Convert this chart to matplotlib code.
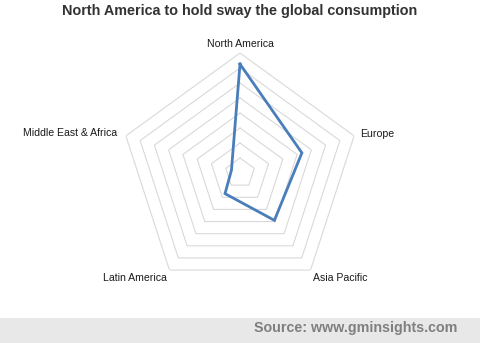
import numpy as np
import matplotlib.pyplot as plt
from matplotlib.patches import Rectangle

# ───── Data ─────
regions = ['North America', 'Europe', 'Asia Pacific', 'Latin America', 'Middle East & Africa']
share   = [36.3, 21.7, 19.5, 8.5, 3.0]
rings   = [5, 10, 15, 20, 25, 30, 35, 40]

TITLE  = 'North America to hold sway the global consumption'
SOURCE = 'Source: www.gminsights.com'

plt.rcParams['font.family'] = ['Liberation Sans', 'DejaVu Sans']

fig = plt.figure(figsize=(4.8, 3.43), dpi=100)
ax = fig.add_axes([0.25, 0.1458, 0.5, 0.6997], projection='polar')
ax.set_theta_offset(np.pi / 2)
ax.set_theta_direction(-1)

angles = np.linspace(0, 2 * np.pi, len(regions), endpoint=False)
closed = np.append(angles, angles[0])

# pentagon grid
for r in rings:
    ax.plot(closed, [r] * len(closed), color='#d9d9d9', lw=0.8, zorder=1)

vals = share + share[:1]
ax.plot(closed, vals, color='#4a7ebb', lw=2.0, zorder=3, solid_joinstyle='miter')

ax.set_ylim(0, rings[-1])
ax.set_xticks([])
ax.set_yticks([])
ax.grid(False)
ax.spines['polar'].set_visible(False)
ax.patch.set_alpha(0)

# category labels
opts = [
    dict(ha='center', va='bottom', r=41.3),
    dict(ha='left', va='center', r=42.0),
    dict(ha='left', va='top', r=41.3),
    dict(ha='right', va='top', r=41.3),
    dict(ha='right', va='center', r=43.0),
]
for a, name, o in zip(angles, regions, opts):
    ax.text(a, o['r'], name, ha=o['ha'], va=o['va'], fontsize=7.6,
            color='#1a1a1a', clip_on=False)

fig.text(0.5, 0.967, TITLE, ha='center', va='center', fontsize=10.4,
         fontweight='bold', color='#333333')

# source band
fig.patches.append(Rectangle((0, 0), 1, 0.074, transform=fig.transFigure,
                             facecolor='#e8e8e8', edgecolor='none', zorder=0))
fig.text(0.953, 0.044, SOURCE, ha='right', va='center', fontsize=10.3,
         fontweight='bold', color='#7f7f7f')

fig.savefig('out.png', dpi=100)
